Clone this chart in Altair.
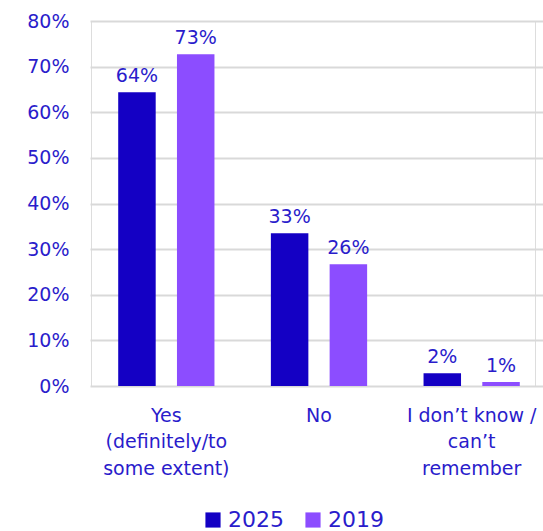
import altair as alt
import pandas as pd

categories = ["Yes (definitely/to some extent)", "No", "I don\u2019t know / can\u2019t remember"]
category_lines = [["Yes", "(definitely/to", "some extent)"], ["No"], ["I don\u2019t know /", "can\u2019t", "remember"]]
years = ["2025", "2019"]
values_2025 = [64.4, 33.5, 2.8]
values_2019 = [72.7, 26.7, 0.9]
labels_2025 = ["64%", "33%", "2%"]
labels_2019 = ["73%", "26%", "1%"]

rows = []
for i, c in enumerate(categories):
    rows.append({"cat": c, "year": "2025", "value": values_2025[i], "label": labels_2025[i]})
    rows.append({"cat": c, "year": "2019", "value": values_2019[i], "label": labels_2019[i]})
df = pd.DataFrame(rows)

FONT = "DejaVu Sans"
TXT = "#2a1ccb"
colors = ["#1400c4", "#8c4dff"]

label_map = "{" + ",".join(
    '"%s": [%s]' % (c, ",".join('"%s"' % l for l in lines))
    for c, lines in zip(categories, category_lines)
) + "}"

x = alt.X("cat:N", sort=categories, title=None,
          scale=alt.Scale(paddingInner=0, paddingOuter=0, range=[-1, 457]),
          axis=alt.Axis(labelExpr=label_map + "[datum.value]", labelAngle=0,
                        labelFontSize=19, labelColor=TXT, labelFont=FONT,
                        labelLineHeight=26.5, labelPadding=20, ticks=False,
                        domain=False, labelBaseline="top", labelOverlap=False,
                        labelBound=False))
xo = alt.XOffset("year:N", sort=years,
                 scale=alt.Scale(paddingInner=0.362, paddingOuter=0.48))
y = alt.Y("value:Q", title=None,
          scale=alt.Scale(domain=[0, 80]),
          axis=alt.Axis(values=list(range(0, 81, 10)), labelExpr="datum.value + '%'",
                        labelFontSize=19, labelColor=TXT, labelFont=FONT,
                        labelPadding=22, ticks=False, domain=False,
                        grid=True, gridColor="#d9d9d9", gridWidth=2))
color = alt.Color("year:N", sort=years, scale=alt.Scale(domain=years, range=colors),
                  legend=alt.Legend(title=None, orient="none", direction="horizontal",
                                    legendX=111, legendY=488, symbolType="square",
                                    symbolSize=230, symbolStrokeWidth=0, labelFontSize=22,
                                    labelColor=TXT, labelFont=FONT, columnPadding=18,
                                    labelOffset=4))

bars = alt.Chart(df).mark_bar().encode(x=x, xOffset=xo, y=y, color=color)
text = alt.Chart(df).mark_text(baseline="bottom", dy=-6, fontSize=19, font=FONT, color=TXT).encode(
    x=alt.X("cat:N", sort=categories), xOffset=xo, y="value:Q", text="label:N")

chart = (bars + text).properties(
    width=444, height=365,
    autosize=alt.AutoSizeParams(type="none"),
    padding={"left": 91, "top": 21, "right": 8, "bottom": 145},
).configure_view(stroke=None).configure(background="white")

chart.save("out.html", embed_options={"renderer": "svg", "actions": False})
